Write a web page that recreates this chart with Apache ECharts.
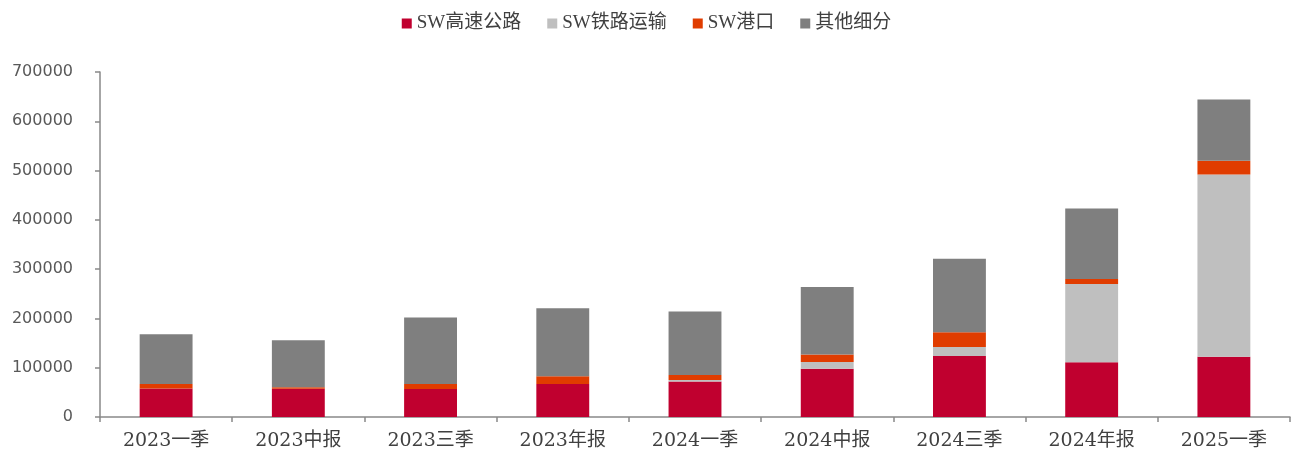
<!DOCTYPE html>
<html>
<head>
<meta charset="utf-8">
<script src="https://cdn.jsdelivr.net/npm/echarts@6/dist/echarts.min.js"></script>
<style>
  html, body { margin: 0; padding: 0; background: #fff; }
  #main { width: 1293px; height: 456px; }
</style>
</head>
<body>
<div id="main"></div>
<script>
  var categories = ['2023一季', '2023中报', '2023三季', '2023年报', '2024一季', '2024中报', '2024三季', '2024年报', '2025一季']
  var highwayData = [58000, 57500, 57000, 67000, 72000, 98000, 124000, 111000, 122000]
  var railData = [0, 0, 0, 0, 3000, 13500, 18000, 159000, 370000]
  var portData = [9000, 3000, 10000, 15500, 10000, 15500, 30000, 10000, 28000]
  var otherData = [101000, 95000, 135000, 138000, 129000, 137000, 149000, 143000, 124000]
  var seriesNames = ['SW高速公路', 'SW铁路运输', 'SW港口', '其他细分']
  var seriesColors = ['#C0002F', '#BFBFBF', '#E03C00', '#7F7F7F']

  var chart = echarts.init(document.getElementById('main'))

  var labelFont = '"DejaVu Serif", "Liberation Serif", "Noto Sans CJK SC", serif'
  var seriesData = [highwayData, railData, portData, otherData]

  var series = seriesNames.map(function (name, i) {
    return {
      name: name,
      type: 'bar',
      stack: 'total',
      barCategoryGap: '60%',
      itemStyle: {color: seriesColors[i]},
      data: seriesData[i]
    }
  })

  var option = {
    animation: false,
    backgroundColor: '#fff',
    legend: {
      data: seriesNames,
      top: 9,
      left: 'center',
      itemWidth: 10,
      itemHeight: 10,
      itemGap: 26,
      icon: 'rect',
      textStyle: {
        fontFamily: '"Liberation Serif", "Noto Sans CJK SC", serif',
        fontSize: 19,
        color: '#404040'
      }
    },
    grid: {left: 100, right: 3, top: 72, bottom: 39},
    xAxis: {
      type: 'category',
      data: categories,
      axisLine: {lineStyle: {color: '#898989', width: 1.5}},
      axisTick: {show: true, length: 5, lineStyle: {color: '#898989', width: 1.5}},
      axisLabel: {
        margin: 15,
        fontFamily: labelFont,
        fontSize: 19,
        color: '#404040'
      }
    },
    yAxis: {
      type: 'value',
      min: 0,
      max: 700000,
      interval: 100000,
      splitLine: {show: false},
      axisLine: {show: true, lineStyle: {color: '#898989', width: 1.5}},
      axisTick: {show: true, length: 5, lineStyle: {color: '#898989', width: 1.5}},
      axisLabel: {
        margin: 27,
        fontFamily: '"DejaVu Sans", sans-serif',
        fontSize: 16,
        color: '#595959',
        formatter: function (v) { return String(v) }
      }
    },
    series: series
  }

  option && chart.setOption(option)
</script>
</body>
</html>
